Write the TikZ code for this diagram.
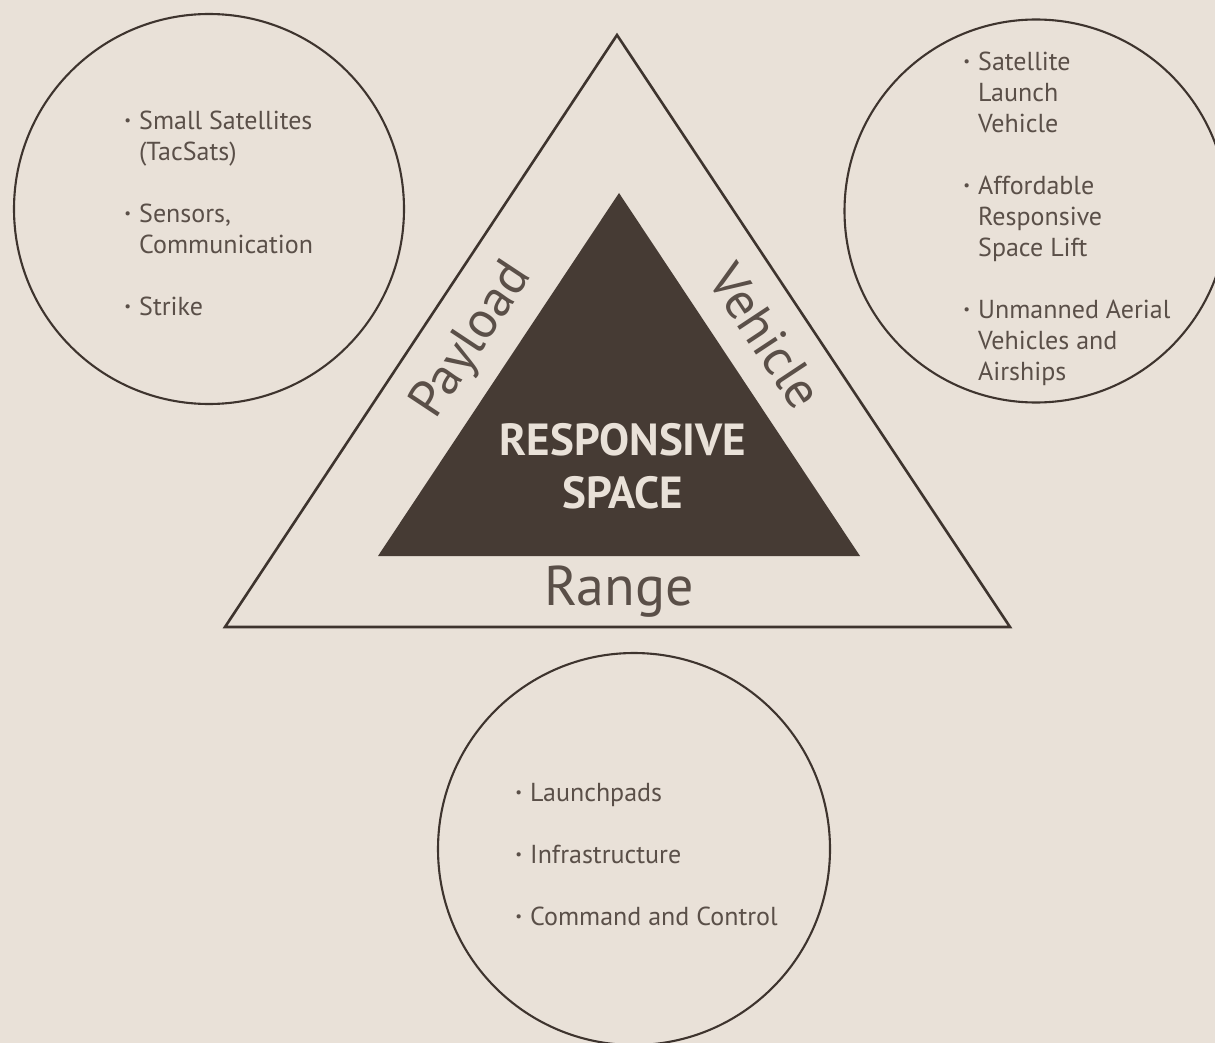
\documentclass[tikz,border=0pt]{standalone}
\usepackage{fontspec}
\setmainfont{PT Sans}
\usetikzlibrary{positioning}
\definecolor{paper}{HTML}{E9E1D8}
\definecolor{ink}{HTML}{3E342E}
\definecolor{inkfill}{HTML}{463B34}
\definecolor{txt}{HTML}{5A4F48}
\tikzset{
  ring/.style={circle,draw=ink,line width=2.1pt,inner sep=0pt},
  items/.style={align=left,anchor=base west,inner sep=0pt,text=txt,
    font=\fontsize{26}{31}\selectfont},
  side/.style={text=txt,inner sep=0pt,font=\fontsize{52}{52}\selectfont}
}
\newcommand{\bul}{\llap{\raisebox{.12em}{\fontsize{15}{15}\selectfont•}\hspace{8pt}}}

\begin{document}
\begin{tikzpicture}[x=1pt,y=-1pt]
\fill[paper] (0,0) rectangle (1215,1043);
\useasboundingbox (0,0) rectangle (1215,1043);

% the three circles
\node[ring,minimum size=390pt] (payring) at (209,209) {};
\node[ring,minimum size=383pt] (vehring) at (1036,211) {};
\node[ring,minimum size=392pt] (rngring) at (634,849) {};

% outer and inner triangle
\coordinate (top) at (617,35);
\coordinate (bl) at (225,627);
\coordinate (br) at (1010,627);
\coordinate (itop) at (619,193);
\coordinate (ibl) at (378,556);
\coordinate (ibr) at (860,556);
\draw[ink,line width=2.6pt,line join=miter] (top) -- (br) -- (bl) -- cycle;
\fill[inkfill] (itop) -- (ibr) -- (ibl) -- cycle;

\node[text=paper,align=center,font=\bfseries\fontsize{45}{53}\selectfont] (core)
  at (623,466) {RESPONSIVE\\SPACE};
\node[side,rotate=56.5] (payload) at (473,341) {Payload};
\node[side,rotate=-56.5] (vehicle) at (766,336) {Vehicle};
\node[side,anchor=base,font=\fontsize{56}{56}\selectfont] (range) at (619,605) {Range};

% bullet lists
\node[items] (paylist) at (139,315) {\bul Small Satellites\\(TacSats)\\[31pt]
  \bul Sensors,\\Communication\\[31pt]\bul Strike};
\node[items] (vehlist) at (978,380) {\bul Satellite\\Launch\\Vehicle\\[31pt]
  \bul Affordable\\Responsive\\Space Lift\\[31pt]
  \bul Unmanned Aerial\\Vehicles and\\Airships};
\node[items] (rnglist) at (530,925) {\bul Launchpads\\[31pt]
  \bul Infrastructure\\[31pt]\bul Command and Control};
\end{tikzpicture}
\end{document}
